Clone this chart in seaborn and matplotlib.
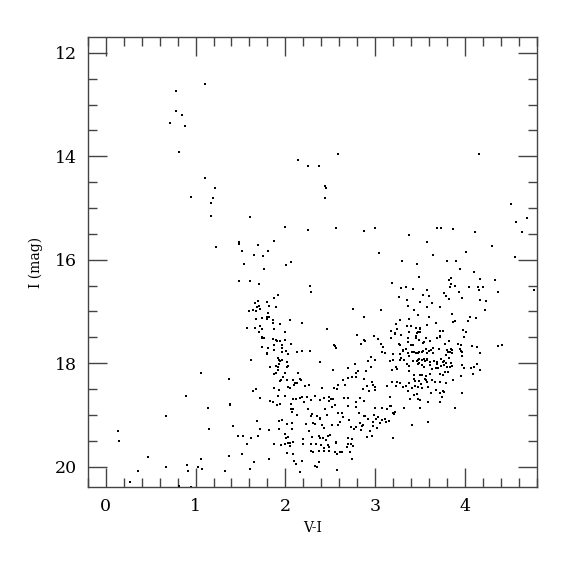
import numpy as np
import pandas as pd
import matplotlib
matplotlib.use("Agg")
import matplotlib.pyplot as plt
import seaborn as sns
from matplotlib.ticker import MultipleLocator

# (V-I, I) pairs, grouped by region
upper_blue = [(1.11, 12.61), (0.78, 12.73), (0.785, 13.12), (0.845, 13.20), (0.72, 13.35),
              (0.886, 13.42), (0.815, 13.92), (1.11, 14.42), (1.215, 14.62), (0.95, 14.78),
              (1.197, 14.81), (1.175, 14.91), (1.175, 15.16), (1.23, 15.75)]

lower_blue = [(1.06, 18.18), (1.37, 18.31), (0.89, 18.63), (1.14, 18.87), (1.38, 18.79),
              (1.38, 18.81), (0.67, 19.02), (0.14, 19.32), (0.15, 19.51), (1.15, 19.28),
              (1.42, 19.22), (1.47, 19.41), (0.47, 19.81), (1.06, 19.85), (1.37, 19.80),
              (0.90, 19.96), (0.67, 20.01), (1.03, 20.00), (1.07, 20.05), (0.92, 20.09),
              (1.33, 20.09), (0.36, 20.08), (0.27, 20.29), (0.82, 20.37), (0.95, 20.39)]

bright_red = [(2.58, 13.95), (2.14, 14.08), (2.25, 14.18), (2.37, 14.18), (2.44, 14.58),
              (4.15, 13.95)]

giant_upper = [(2.45, 14.62), (2.44, 14.80), (1.61, 15.17), (1.99, 15.36), (2.25, 15.42),
               (2.56, 15.39), (2.87, 15.44), (3.00, 15.38), (1.486, 15.66), (1.486, 15.69),
               (1.874, 15.64), (1.70, 15.72), (1.52, 15.84), (1.81, 15.83), (1.65, 15.91),
               (1.75, 15.93), (3.04, 15.86), (1.54, 16.08), (2.06, 16.04), (2.01, 16.11),
               (1.76, 16.18), (1.486, 16.41), (1.61, 16.42), (1.71, 16.47), (2.27, 16.51),
               (2.29, 16.63), (1.92, 16.68), (1.87, 16.74), (1.66, 16.84), (1.70, 16.80),
               (1.80, 16.82), (1.82, 16.89), (1.71, 16.89), (1.68, 16.92), (1.90, 16.92),
               (1.60, 17.00), (1.64, 16.97), (1.67, 16.99), (1.72, 16.96), (1.81, 17.02),
               (2.75, 16.96), (3.06, 16.98), (2.87, 17.10), (1.74, 17.12), (1.79, 17.11),
               (1.82, 17.11), (1.80, 17.14), (1.67, 17.15), (1.86, 17.16), (1.86, 17.22),
               (2.05, 17.16), (1.94, 17.24), (2.19, 17.22), (1.57, 17.32), (1.66, 17.31),
               (1.72, 17.29), (1.74, 17.34), (1.87, 17.34), (1.71, 17.40), (1.99, 17.40),
               (2.46, 17.34), (2.80, 17.45), (2.99, 17.48), (1.74, 17.49)]

red_upper = [(4.51, 14.93), (4.69, 15.20), (4.57, 15.27), (4.63, 15.47), (3.69, 15.39),
             (3.73, 15.39), (3.87, 15.41), (4.11, 15.46), (3.37, 15.53), (3.57, 15.65),
             (4.30, 15.74), (4.01, 15.85), (3.64, 15.91), (4.56, 15.95), (3.30, 16.03),
             (3.46, 16.08), (3.80, 16.03), (3.90, 16.02), (3.94, 16.18), (4.10, 16.23),
             (3.49, 16.33), (3.84, 16.35), (3.82, 16.39), (4.16, 16.38), (4.33, 16.40),
             (3.19, 16.45), (3.84, 16.47), (3.89, 16.50), (3.83, 16.53), (3.34, 16.52),
             (3.29, 16.54), (4.04, 16.53), (4.14, 16.52), (4.20, 16.53), (4.77, 16.58),
             (3.42, 16.56), (3.58, 16.58), (4.15, 16.59), (4.37, 16.63), (3.93, 16.63),
             (3.77, 16.65), (3.53, 16.69), (3.60, 16.71), (3.79, 16.71), (3.96, 16.73),
             (3.26, 16.72), (3.82, 16.76), (3.35, 16.78), (4.16, 16.77), (4.23, 16.79),
             (3.50, 16.82), (3.63, 16.84), (3.58, 16.91), (3.72, 16.91), (3.36, 16.90),
             (3.43, 16.98), (4.22, 16.98), (3.85, 17.05), (3.47, 17.07), (3.60, 17.11),
             (4.05, 17.10), (4.12, 17.13), (3.27, 17.16), (3.37, 17.15), (4.03, 17.18),
             (3.89, 17.18), (3.87, 17.20), (3.68, 17.23), (3.23, 17.25), (3.35, 17.28),
             (3.40, 17.28), (3.58, 17.27), (3.45, 17.32), (3.50, 17.31), (3.50, 17.34),
             (3.24, 17.33), (3.18, 17.38), (3.22, 17.42), (3.22, 17.44), (3.37, 17.39),
             (3.47, 17.39), (3.50, 17.39), (3.46, 17.42), (3.72, 17.38), (3.75, 17.38),
             (3.98, 17.36), (4.01, 17.40), (3.29, 17.46), (3.45, 17.48), (3.72, 17.48),
             (3.99, 17.49)]

lower_field = [(1.74, 17.52), (1.76, 17.52), (1.86, 17.54), (1.89, 17.55), (1.91, 17.57),
               (1.94, 17.57), (2.00, 17.55), (2.06, 17.63), (1.87, 17.64), (1.96, 17.64),
               (1.96, 17.71), (1.81, 17.71), (1.74, 17.69), (1.87, 17.74), (2.01, 17.76),
               (2.03, 17.82), (1.79, 17.80), (1.79, 17.83), (1.96, 17.79), (2.13, 17.79),
               (2.19, 17.77), (2.27, 17.76), (2.54, 17.64), (2.55, 17.67), (2.56, 17.71),
               (2.84, 17.62), (2.87, 17.56), (2.89, 17.58), (3.03, 17.54), (3.06, 17.62),
               (3.09, 17.68), (3.08, 17.78), (3.11, 17.81), (1.62, 17.93), (1.92, 17.89),
               (1.93, 17.94), (1.94, 17.96), (1.96, 17.94), (1.93, 18.02), (2.02, 17.98),
               (2.39, 17.97), (2.95, 17.88), (2.92, 17.96), (3.00, 17.93), (1.83, 18.07),
               (1.90, 18.06), (1.92, 18.07), (2.02, 18.08), (2.03, 18.06), (1.92, 18.13),
               (1.89, 18.19), (1.87, 18.21), (1.99, 18.18), (2.14, 18.19), (2.53, 18.14),
               (2.70, 18.10), (2.77, 18.02), (2.79, 18.19), (2.81, 18.16), (2.90, 18.16),
               (2.95, 18.08), (1.97, 18.26), (1.95, 18.32), (1.94, 18.34), (2.02, 18.32),
               (2.08, 18.33), (2.11, 18.39), (2.13, 18.39), (2.10, 18.43), (2.16, 18.30),
               (2.17, 18.32), (2.64, 18.32), (2.70, 18.29), (2.74, 18.26), (2.78, 18.27),
               (2.88, 18.30), (2.96, 18.36), (2.98, 18.42), (3.00, 18.47), (3.00, 18.52),
               (1.87, 18.48), (1.93, 18.52), (2.03, 18.47), (2.05, 18.48), (2.22, 18.45),
               (2.26, 18.42), (1.64, 18.53), (1.67, 18.49), (2.41, 18.48), (2.54, 18.48),
               (2.57, 18.50), (2.59, 18.42), (2.66, 18.43), (2.86, 18.49), (2.91, 18.45),
               (3.13, 18.44), (2.93, 18.53), (1.72, 18.67), (1.92, 18.63), (1.99, 18.64),
               (2.08, 18.69), (2.12, 18.69), (2.16, 18.68), (2.18, 18.66), (2.24, 18.65),
               (2.29, 18.72), (2.33, 18.63), (2.38, 18.71), (2.43, 18.67), (2.49, 18.65),
               (2.51, 18.70), (2.53, 18.69), (2.65, 18.67), (2.70, 18.68), (2.78, 18.75),
               (2.83, 18.67), (1.83, 18.73), (1.86, 18.76), (1.94, 18.78), (2.06, 18.79),
               (2.21, 18.76), (2.48, 18.74), (2.88, 18.74), (3.00, 18.87), (3.07, 18.87),
               (3.13, 18.88), (1.91, 18.81), (2.06, 18.89), (2.08, 18.89), (2.07, 18.95),
               (2.25, 18.88), (2.44, 18.89), (2.52, 18.84), (2.55, 18.80), (2.70, 18.82),
               (2.78, 18.85), (2.13, 19.00), (2.28, 19.02), (2.30, 18.98), (2.35, 19.03),
               (2.39, 19.06), (2.46, 19.01), (2.59, 18.96), (2.63, 18.97), (2.64, 19.05),
               (2.82, 18.97), (2.87, 19.03), (2.89, 19.03), (2.92, 19.07), (2.99, 19.01),
               (3.01, 19.07), (3.03, 19.05), (3.08, 19.09), (3.11, 19.07), (1.68, 19.12),
               (1.93, 19.12), (1.96, 19.09), (2.02, 19.18), (2.07, 19.16), (2.23, 19.17),
               (2.31, 19.16), (2.38, 19.07), (2.41, 19.20), (2.43, 19.26), (2.33, 19.18),
               (2.52, 19.19), (2.58, 19.20), (2.61, 19.14), (2.71, 19.10), (2.73, 19.23),
               (2.76, 19.27), (2.78, 19.24), (2.83, 19.16), (2.85, 19.21), (2.86, 19.19),
               (2.98, 19.14), (3.05, 19.16), (3.12, 19.14), (2.97, 19.21), (2.84, 19.30),
               (2.94, 19.32), (2.91, 19.42), (2.96, 19.41), (3.02, 19.25), (1.72, 19.27),
               (1.82, 19.30), (1.93, 19.27), (2.00, 19.36), (2.07, 19.28), (2.03, 19.42),
               (2.01, 19.45), (2.20, 19.46), (2.26, 19.32), (2.30, 19.42), (2.37, 19.41),
               (2.39, 19.44), (2.42, 19.45), (2.45, 19.49), (2.47, 19.40), (2.50, 19.39),
               (2.56, 19.53), (2.70, 19.45), (2.74, 19.47), (1.53, 19.41), (1.62, 19.45),
               (1.70, 19.41), (1.57, 19.57), (1.87, 19.57), (1.87, 19.56), (1.95, 19.59),
               (2.00, 19.56), (2.03, 19.55), (2.05, 19.61), (2.05, 19.55), (2.09, 19.53),
               (2.20, 19.57), (2.28, 19.56), (2.34, 19.57), (2.40, 19.59), (2.43, 19.64),
               (2.47, 19.59), (2.48, 19.63), (2.56, 19.55), (2.70, 19.56), (2.73, 19.57),
               (2.75, 19.61), (2.69, 19.63), (2.72, 19.71), (2.74, 19.85), (2.02, 19.74),
               (2.09, 19.75), (2.29, 19.70), (2.31, 19.72), (2.37, 19.70), (2.43, 19.69),
               (2.48, 19.70), (2.55, 19.72), (2.57, 19.75), (2.61, 19.71), (2.63, 19.71),
               (1.52, 19.76), (2.10, 19.90), (2.12, 19.95), (2.18, 19.90), (2.33, 19.99),
               (2.35, 20.00), (2.37, 19.92), (1.65, 19.92), (1.61, 20.05), (1.82, 19.86),
               (2.16, 20.10), (2.57, 20.06)]

red_lower = [(3.17, 17.52), (3.26, 17.63), (3.28, 17.64), (3.36, 17.52), (3.36, 17.59),
             (3.40, 17.65), (3.42, 17.65), (3.45, 17.52), (3.49, 17.56), (3.53, 17.60),
             (3.54, 17.59), (3.56, 17.52), (3.61, 17.58), (3.69, 17.52), (3.72, 17.50),
             (3.78, 17.62), (3.82, 17.58), (3.92, 17.63), (3.95, 17.65), (4.08, 17.67),
             (4.13, 17.68), (4.37, 17.67), (4.41, 17.65), (3.20, 17.82), (3.31, 17.76),
             (3.31, 17.75), (3.34, 17.73), (3.36, 17.80), (3.27, 17.83), (3.29, 17.89),
             (3.37, 17.86), (3.41, 17.79), (3.43, 17.78), (3.45, 17.81), (3.47, 17.80),
             (3.49, 17.79), (3.52, 17.79), (3.53, 17.77), (3.56, 17.73), (3.58, 17.80),
             (3.60, 17.76), (3.62, 17.75), (3.64, 17.71), (3.64, 17.80), (3.71, 17.73),
             (3.80, 17.74), (3.81, 17.78), (3.83, 17.78), (3.85, 17.81), (3.79, 17.84),
             (3.84, 17.73), (3.85, 17.75), (3.94, 17.73), (3.95, 17.76), (3.96, 17.78),
             (3.97, 17.87), (4.17, 17.81), (3.16, 17.96), (3.20, 17.93), (3.27, 17.93),
             (3.32, 17.93), (3.35, 18.02), (3.37, 18.05), (3.42, 17.96), (3.46, 17.96),
             (3.48, 17.93), (3.49, 17.91), (3.52, 17.94), (3.54, 17.92), (3.55, 17.96),
             (3.58, 17.91), (3.58, 17.93), (3.47, 18.02), (3.49, 18.00), (3.52, 18.04),
             (3.54, 18.07), (3.61, 17.97), (3.61, 18.03), (3.65, 17.96), (3.69, 17.97),
             (3.69, 18.02), (3.73, 17.92), (3.75, 17.97), (3.77, 17.95), (3.79, 17.99),
             (3.76, 18.03), (3.73, 18.06), (3.82, 17.90), (3.84, 18.00), (3.85, 18.05),
             (3.70, 18.09), (3.68, 18.10), (3.63, 18.11), (3.80, 18.07), (3.83, 18.08),
             (3.78, 18.17), (3.81, 18.17), (3.75, 18.23), (3.97, 18.03), (3.99, 18.09),
             (4.07, 18.09), (4.10, 18.07), (4.13, 18.02), (4.09, 18.21), (4.16, 18.14),
             (3.19, 18.14), (3.23, 18.08), (3.24, 18.12), (3.37, 18.16), (3.43, 18.22),
             (3.50, 18.22), (3.52, 18.22), (3.56, 18.25), (3.61, 18.21), (3.72, 18.21),
             (3.95, 18.25), (3.19, 18.36), (3.24, 18.36), (3.28, 18.39), (3.31, 18.47),
             (3.38, 18.38), (3.43, 18.30), (3.44, 18.34), (3.49, 18.34), (3.55, 18.30),
             (3.56, 18.32), (3.58, 18.36), (3.63, 18.33), (3.66, 18.37), (3.72, 18.36),
             (3.79, 18.39), (3.86, 18.32), (3.23, 18.44), (3.34, 18.44), (3.44, 18.44),
             (3.41, 18.48), (3.51, 18.40), (3.47, 18.47), (3.52, 18.48), (3.36, 18.53),
             (3.59, 18.47), (3.68, 18.51), (3.75, 18.54), (3.77, 18.56), (3.62, 18.58),
             (3.72, 18.58), (3.96, 18.57), (3.43, 18.61), (3.46, 18.60), (3.39, 18.69),
             (3.48, 18.69), (3.50, 18.71), (3.74, 18.65), (3.16, 18.65), (3.59, 18.76),
             (3.72, 18.75), (3.16, 18.82), (3.18, 18.82), (3.32, 18.87), (3.50, 18.87),
             (3.89, 18.86), (3.20, 18.97), (3.21, 18.99), (3.22, 18.95), (3.15, 19.12),
             (3.41, 19.19), (3.59, 19.14), (3.20, 19.45)]

groups = [upper_blue, lower_blue, bright_red, giant_upper, red_upper, lower_field, red_lower]
pts = np.array([p for g in groups for p in g])
df = pd.DataFrame({"V-I": pts[:, 0], "I": pts[:, 1]})

sns.set_style("ticks")
plt.rcParams["font.family"] = ["DejaVu Serif"]

fig = plt.figure(figsize=(5.75, 5.75), dpi=100)
ax = fig.add_axes([0.1525, 0.1525, 0.7815, 0.7825])

sns.scatterplot(data=df, x="V-I", y="I", ax=ax, color="black", marker="s",
                s=3, linewidth=0, legend=False)

ax.set_xlim(-0.2, 4.8)
ax.set_ylim(20.4, 11.7)
ax.xaxis.set_major_locator(MultipleLocator(1))
ax.xaxis.set_minor_locator(MultipleLocator(0.2))
ax.yaxis.set_major_locator(MultipleLocator(2))
ax.yaxis.set_minor_locator(MultipleLocator(0.5))
ax.tick_params(which="both", direction="in", top=True, right=True, color="#444444",
               width=1, labelcolor="black")
ax.tick_params(which="major", length=13.5, labelsize=12.5, pad=8)
ax.tick_params(which="minor", length=6.5)
for sp in ax.spines.values():
    sp.set_linewidth(1)
    sp.set_color("#444444")

ax.set_xlabel("V-I", fontsize=10, labelpad=4, color="black")
ax.set_ylabel("I (mag)", fontsize=10, labelpad=8, color="black")

fig.savefig("out.png", dpi=100)
